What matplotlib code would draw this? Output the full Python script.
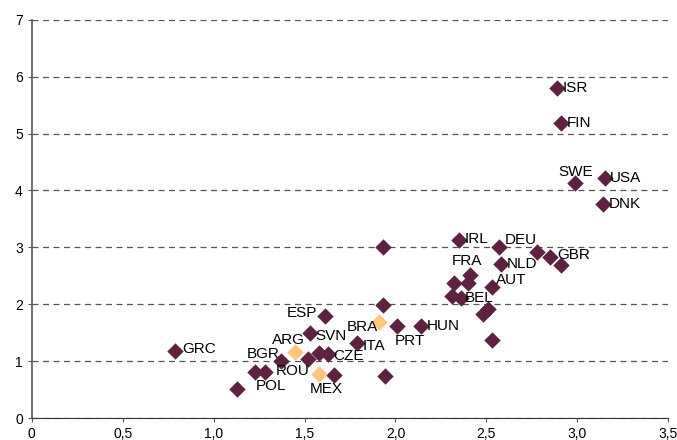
import matplotlib.pyplot as plt

plt.rcParams['font.family'] = ['Liberation Sans', 'DejaVu Sans']

# country codes and values (x, y)
labels = ['ISR', 'FIN', 'SWE', 'USA', 'DNK', 'IRL', 'DEU', 'GBR', '', '', 'NLD',
          'FRA', '', '', 'AUT', '', 'BEL', '', '', '', '', '', 'ESP', 'PRT',
          'HUN', 'ITA', 'SVN', 'CZE', '', 'ROU', '', '', 'GRC', 'BGR', 'POL', '', '']
x = [2.89, 2.91, 2.99, 3.15, 3.14, 2.35, 2.57, 2.91, 2.78, 2.85, 2.58,
     2.41, 2.32, 2.40, 2.53, 2.31, 2.36, 2.48, 2.51, 2.53, 1.93, 1.93, 1.61, 2.01,
     2.14, 1.79, 1.53, 1.63, 1.58, 1.52, 1.66, 1.94, 0.79, 1.37, 1.28, 1.23, 1.13]
y = [5.80, 5.18, 4.13, 4.22, 3.76, 3.13, 3.00, 2.69, 2.92, 2.83, 2.71,
     2.51, 2.37, 2.37, 2.30, 2.14, 2.11, 1.83, 1.92, 1.37, 3.00, 1.99, 1.79, 1.62,
     1.62, 1.32, 1.49, 1.12, 1.14, 1.04, 0.76, 0.74, 1.18, 1.00, 0.81, 0.81, 0.51]

# highlighted (orange) countries
hl_labels = ['BRA', 'ARG', 'MEX']
hl_x = [1.91, 1.45, 1.58]
hl_y = [1.69, 1.16, 0.77]

# label offsets in points (dx, dy, ha)
offs = {
    'ISR': (4, 0, 'left'), 'FIN': (4, 0, 'left'), 'SWE': (0, 8, 'center'),
    'USA': (4, 0, 'left'), 'DNK': (4, 0, 'left'), 'IRL': (4, 1, 'left'),
    'DEU': (4, 5, 'left'), 'GBR': (-3, 7, 'left'), 'NLD': (4, 0, 'left'),
    'FRA': (-2, 10, 'center'), 'AUT': (3, 5, 'left'), 'BEL': (3, 0, 'left'),
    'ESP': (-5, 2, 'right'), 'PRT': (-2, -11, 'left'), 'HUN': (4, 0, 'left'),
    'ITA': (4, -2, 'left'), 'SVN': (4, -2, 'left'), 'CZE': (4, -1, 'left'),
    'ROU': (-11, -9, 'center'), 'GRC': (5, 1, 'left'), 'BGR': (-1, 5, 'right'),
    'POL': (5, -10, 'center'), 'BRA': (-12, -4, 'center'), 'ARG': (-5, 9, 'center'),
    'MEX': (5, -11, 'center'),
}

fig = plt.figure(figsize=(6.77, 4.4), dpi=100)
ax = fig.add_axes([0.047, 0.05, 0.94, 0.905])

ax.scatter(x, y, marker='D', s=70, color='#5E2140', zorder=3, linewidths=0)
ax.scatter(hl_x, hl_y, marker='D', s=70, color='#FFC57A', zorder=3, linewidths=0)

for lab, xx, yy in list(zip(labels, x, y)) + list(zip(hl_labels, hl_x, hl_y)):
    if lab == '':
        continue
    dx, dy, ha = offs[lab]
    ax.annotate(lab, (xx, yy), xytext=(dx, dy), textcoords='offset points',
                ha=ha, va='center', fontsize=11, color='black', zorder=4)

ax.set_xlim(0, 3.5)
ax.set_ylim(0, 7)
ax.set_xticks([0, 0.5, 1.0, 1.5, 2.0, 2.5, 3.0, 3.5])
ax.set_xticklabels(['0', '0,5', '1,0', '1,5', '2,0', '2,5', '3,0', '3,5'])
ax.set_yticks(range(0, 8))
ax.yaxis.grid(True, linestyle=(0, (4.8, 3.6)), color='#555555', linewidth=0.9)
ax.set_axisbelow(True)
for s in ['top', 'right']:
    ax.spines[s].set_visible(False)
ax.spines['left'].set_color('#555555')
ax.spines['left'].set_linewidth(1.2)
ax.spines['bottom'].set_color('#333333')
ax.tick_params(labelsize=10, length=3, color='#555555')

plt.savefig('out.png', dpi=100)
